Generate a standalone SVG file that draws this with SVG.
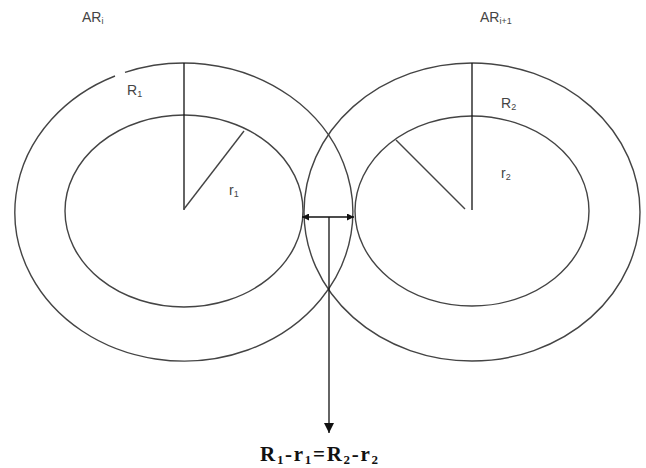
<svg xmlns="http://www.w3.org/2000/svg" width="646" height="468" viewBox="0 0 646 468">
<style>
.c{fill:none;stroke:#444;stroke-width:1.4}
.l{stroke:#111;stroke-width:1.3;fill:none}
.lab{font-family:"Liberation Sans",Arial,sans-serif;font-size:14px;fill:#444}
.sub{font-size:9px}
.eq{font-family:"Liberation Serif","Times New Roman",serif;font-size:21px;font-weight:bold;fill:#111}
</style>
<defs>
<marker id="ah" viewBox="0 0 10 10" refX="10" refY="5" markerWidth="10" markerHeight="10" markerUnits="userSpaceOnUse" orient="auto-start-reverse">
<path d="M0,0 L10,5 L0,10 Z" fill="#111"/>
</marker>
<marker id="ah2" viewBox="0 0 10 10" refX="10" refY="5" markerWidth="10" markerHeight="7" markerUnits="userSpaceOnUse" orient="auto-start-reverse">
<path d="M0,0 L10,5 L0,10 Z" fill="#111"/>
</marker>
</defs>
<rect width="646" height="468" fill="#fff"/>
<g id="ring-left">
<path class="c" d="M125,72.4 A169,149 0 1 1 115,76"/>
<ellipse class="c" cx="184" cy="211" rx="119" ry="96"/>
<line class="l" x1="184" y1="63" x2="184" y2="210"/>
<line class="c" x1="184" y1="209" x2="244" y2="131"/>
<text class="lab" x="82" y="22">AR<tspan class="sub" dy="2">i</tspan></text>
<text class="lab" x="127" y="95">R<tspan class="sub" dy="2">1</tspan></text>
<text class="lab" x="229" y="195">r<tspan class="sub" dy="2">1</tspan></text>
</g>
<g id="ring-right">
<ellipse class="c" cx="472" cy="212" rx="168" ry="149"/>
<ellipse class="c" cx="472" cy="211" rx="117" ry="95"/>
<line class="l" x1="472" y1="63" x2="472" y2="210"/>
<line class="c" x1="396" y1="140" x2="465" y2="209"/>
<text class="lab" x="480" y="22">AR<tspan class="sub" dy="2">i+1</tspan></text>
<text class="lab" x="501" y="108">R<tspan class="sub" dy="2">2</tspan></text>
<text class="lab" x="501" y="178">r<tspan class="sub" dy="2">2</tspan></text>
</g>
<g id="connectors">
<line class="l" x1="302" y1="217" x2="354" y2="217" marker-start="url(#ah2)" marker-end="url(#ah2)"/>
<line class="l" x1="329" y1="217" x2="329" y2="433" marker-end="url(#ah)"/>
</g>
<g id="equation">
<text class="eq" x="260" y="461" textLength="118" lengthAdjust="spacing">R<tspan font-size="13" dy="3">1</tspan><tspan dy="-3">-r</tspan><tspan font-size="13" dy="3">1</tspan><tspan dy="-3">=R</tspan><tspan font-size="13" dy="3">2</tspan><tspan dy="-3">-r</tspan><tspan font-size="13" dy="3">2</tspan></text>
</g>
</svg>
